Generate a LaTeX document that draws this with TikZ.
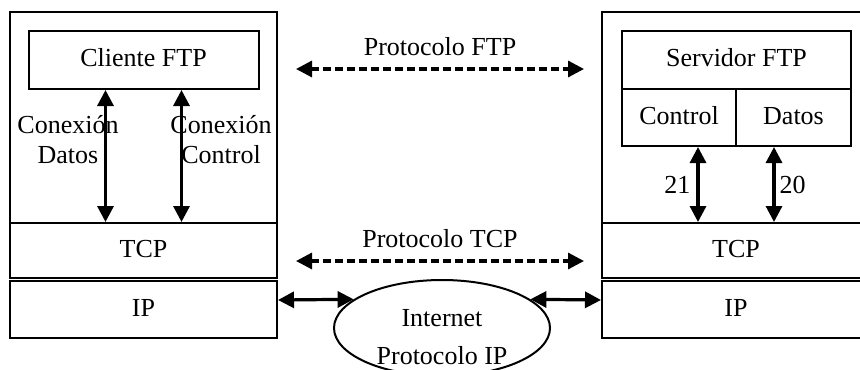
\documentclass[tikz,border=0pt]{standalone}
\usepackage{fontspec}
\setmainfont{Liberation Serif}
\usetikzlibrary{shapes,arrows.meta,positioning}

\begin{document}
\begin{tikzpicture}[x=0.5pt, y=-0.5pt, every node/.style={font=\fontsize{13}{15}\selectfont},
    layer/.style={draw, line width=1pt, minimum width=133.5pt, inner sep=0pt, text height=9pt, text depth=2pt},
    biarrow/.style={{Triangle[length=8pt,width=8pt]}-{Triangle[length=8pt,width=8pt]}, line width=1.6pt},
    dasharrow/.style={biarrow, dash pattern=on 4pt off 2pt}]
    \useasboundingbox (0,0) rectangle (860,369);
    \clip (0,0) rectangle (860,369);

    % Client side
    \node[layer, minimum height=105.5pt] (hostA) at (143.5,117.5) {};
    \node[layer, minimum height=27.5pt] (tcpA) at (143.5,250.5) {TCP};
    \node[layer, minimum height=28.5pt] (ipA) at (143.5,309.5) {IP};
    \node[layer, minimum width=115pt, minimum height=29pt] (cli) at (143.5,60) {Cliente FTP};
    \draw[biarrow] ([xshift=-19pt]cli.south) -- ([xshift=-19pt]tcpA.north);
    \draw[biarrow] ([xshift=19pt]cli.south) -- ([xshift=19pt]tcpA.north);
    \node[align=center] (cdat) at (68,140) {Conexión\\Datos};
    \node[align=center] (cctl) at (221,140) {Conexión\\Control};

    % Server side
    \node[layer, minimum width=134pt, minimum height=105.5pt] (hostB) at (736,117.5) {};
    \node[layer, minimum width=134pt, minimum height=27.5pt] (tcpB) at (736,250.5) {TCP};
    \node[layer, minimum width=134pt, minimum height=28.5pt] (ipB) at (736,309.5) {IP};
    \node[layer, minimum width=114.5pt, minimum height=29pt] (srv) at (736.5,60) {Servidor FTP};
    \node[layer, minimum width=57pt, minimum height=28.5pt] (ctl) at (679,117.5) {Control};
    \node[layer, minimum width=57.5pt, minimum height=28.5pt] (dat) at (793.5,117.5) {Datos};
    \draw[biarrow] ([xshift=9.5pt]ctl.south) -- node[left, inner sep=3pt] {21} ([xshift=-19pt]tcpB.north);
    \draw[biarrow] ([xshift=-9.75pt]dat.south) -- node[right, inner sep=2pt] {20} ([xshift=19pt]tcpB.north);

    % Peer protocols
    \coordinate (ftpL) at (296,69);
    \coordinate (ftpR) at (584,69);
    \draw[dasharrow] (ftpL) -- node[above=2.5pt] {Protocolo FTP} (ftpR);
    \coordinate (tcpL) at (296,261);
    \coordinate (tcpR) at (584,261);
    \draw[dasharrow] (tcpL) -- node[above=2.5pt] {Protocolo TCP} (tcpR);

    % Internet
    \node[draw, ellipse, line width=1pt, minimum width=108pt, minimum height=48pt, inner sep=0pt] (net) at (442,328) {};
    \node[align=center, font=\fontsize{13}{19}\selectfont] (nettxt) at (442,337) {Internet\\Protocolo IP};
    \draw[biarrow] ([yshift=4.75pt]ipA.east) -- (net.162);
    \draw[biarrow] (net.18) -- ([yshift=4.75pt]ipB.west);
\end{tikzpicture}
\end{document}
